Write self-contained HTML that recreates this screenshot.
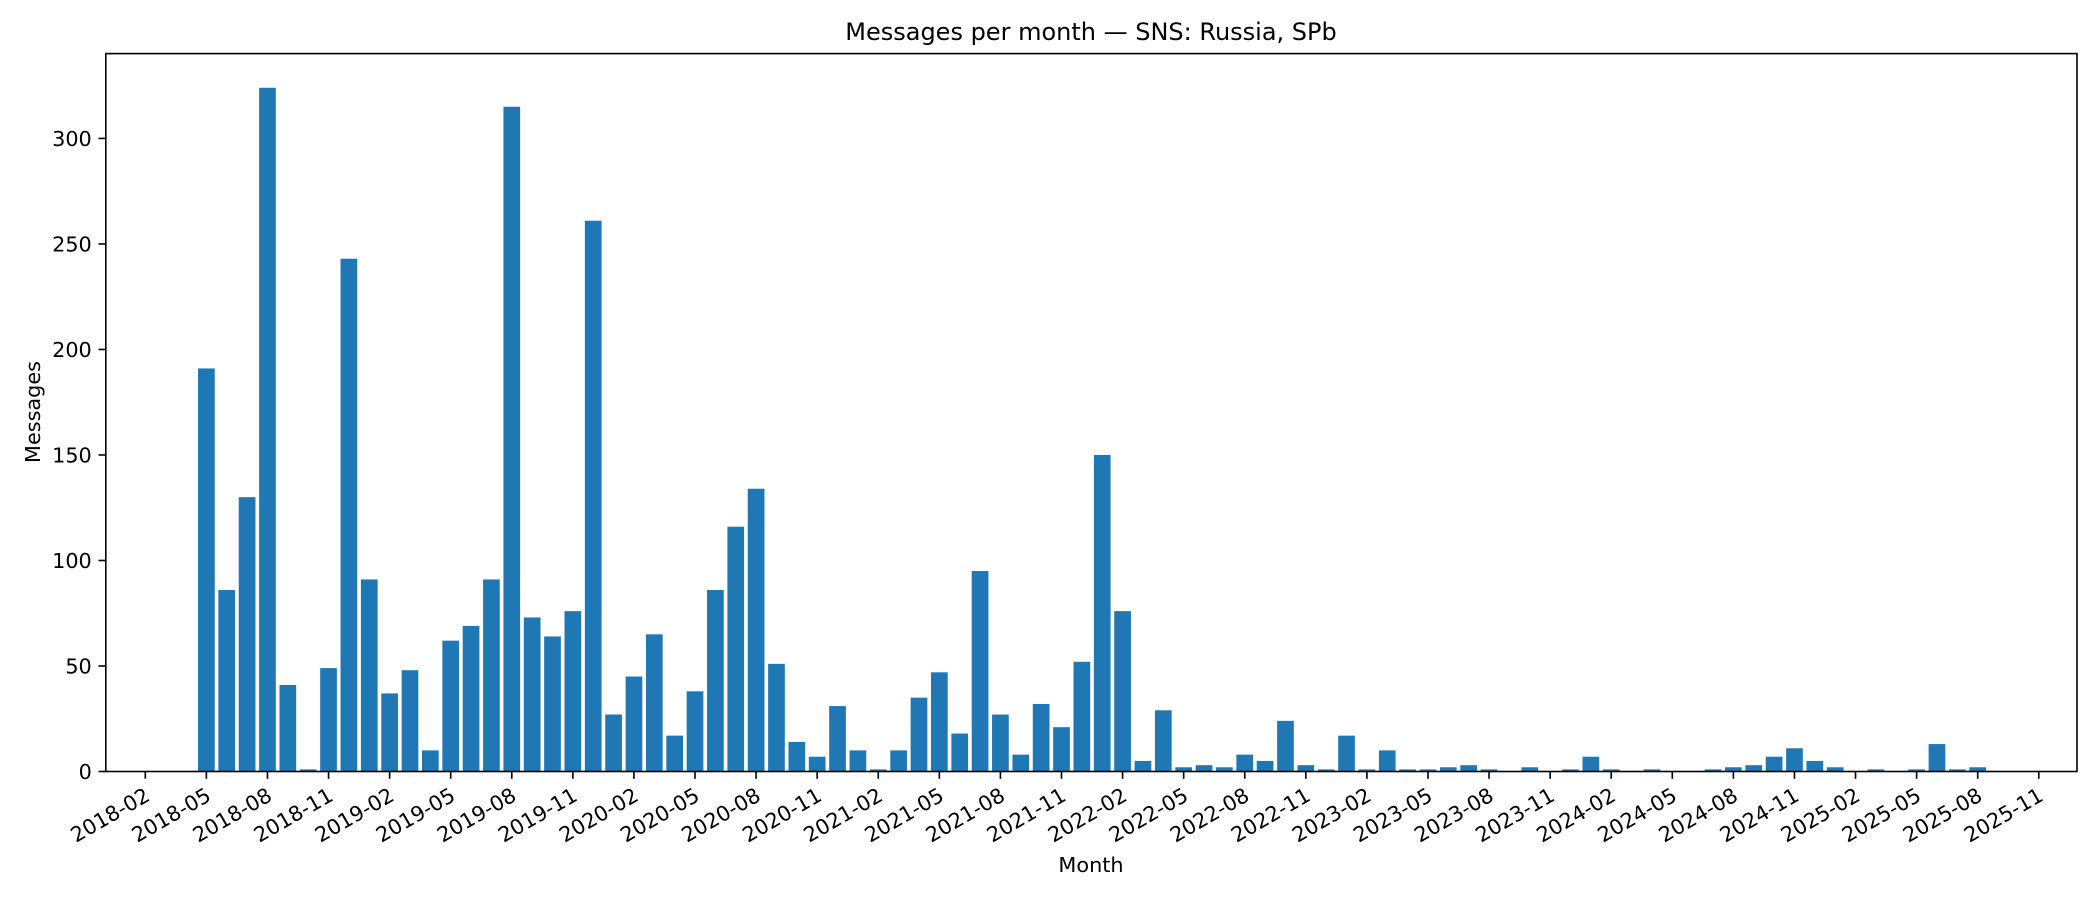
<!DOCTYPE html>
<html><head><meta charset="utf-8"><style>
html,body{margin:0;padding:0;background:#fff;}
svg{display:block;font-family:"DejaVu Sans","Liberation Sans",sans-serif;}
</style></head><body>
<svg id="chart" width="2100" height="900" viewBox="0 0 2100 900" xmlns="http://www.w3.org/2000/svg">
<rect x="0" y="0" width="2100" height="900" fill="#fff"/>
<text x="1091" y="40" font-size="24" text-anchor="middle" fill="#000">Messages per month — SNS: Russia, SPb</text>
<g id="bars"></g>
<g id="yaxis"></g>
<g id="xaxis"></g>
<rect x="105.8" y="53.6" width="1971.2" height="717.9" fill="none" stroke="#000" stroke-width="1.6"/>
<text x="1091" y="872" font-size="20.8" text-anchor="middle" fill="#000">Month</text>
<text x="0" y="0" font-size="20.8" text-anchor="middle" fill="#000" transform="translate(40,412) rotate(-90)">Messages</text>
</svg>
<script>
// data: monthly counts starting 2018-05
const startMonth = "2018-05";
const messages = [
191,86,130,324,41,1,49,243,
91,37,48,10,62,69,91,315,73,64,76,261,
27,45,65,17,38,86,116,134,51,14,7,31,
10,1,10,35,47,18,95,27,8,32,21,52,
150,76,5,29,2,3,2,8,5,24,3,1,
17,1,10,1,1,2,3,1,0,2,0,1,
7,1,0,1,0,0,1,2,3,7,11,5,
2,0,1,0,1,13,1,2
];
const xTickLabels = ["2018-02","2018-05","2018-08","2018-11","2019-02","2019-05","2019-08","2019-11","2020-02","2020-05","2020-08","2020-11","2021-02","2021-05","2021-08","2021-11","2022-02","2022-05","2022-08","2022-11","2023-02","2023-05","2023-08","2023-11","2024-02","2024-05","2024-08","2024-11","2025-02","2025-05","2025-08","2025-11"];
const yTicks = [0,50,100,150,200,250,300];

const NS = "http://www.w3.org/2000/svg";
const plotLeft = 105.8, plotRight = 2077, plotTop = 53.6, plotBottom = 771.5;
const originYear = 2018, originMonth = 2; // 2018-02 at index 0
const monthPx = 20.36, x0 = 145.3;
const yMax = Math.max(...messages) * 1.05;
function monthIndex(s){ const [y,m] = s.split("-").map(Number); return (y-originYear)*12 + (m-originMonth); }
function xScale(i){ return x0 + i*monthPx; }
function yScale(v){ return plotBottom - v/yMax*(plotBottom-plotTop); }

const barsG = document.getElementById("bars");
const start = monthIndex(startMonth);
const bw = 16.7;
messages.forEach((v,k)=>{
  const cx = xScale(start+k);
  const r = document.createElementNS(NS,"rect");
  r.setAttribute("x", cx-bw/2);
  r.setAttribute("y", yScale(v));
  r.setAttribute("width", bw);
  r.setAttribute("height", Math.max(0, plotBottom - yScale(v)));
  r.setAttribute("fill", "#1f77b4");
  
  
  barsG.appendChild(r);
});

const yG = document.getElementById("yaxis");
yTicks.forEach(t=>{
  const y = yScale(t);
  const l = document.createElementNS(NS,"line");
  l.setAttribute("x1", plotLeft-7.3); l.setAttribute("x2", plotLeft);
  l.setAttribute("y1", y); l.setAttribute("y2", y);
  l.setAttribute("stroke","#000"); l.setAttribute("stroke-width","1.6");
  
  
  yG.appendChild(l);
  const tx = document.createElementNS(NS,"text");
  tx.setAttribute("x", plotLeft-14); tx.setAttribute("y", y+7.5);
  tx.setAttribute("font-size","20.8"); tx.setAttribute("text-anchor","end");
  tx.textContent = t;
  
  
  yG.appendChild(tx);
});

const xG = document.getElementById("xaxis");
xTickLabels.forEach(s=>{
  const x = xScale(monthIndex(s));
  const l = document.createElementNS(NS,"line");
  l.setAttribute("x1", x); l.setAttribute("x2", x);
  l.setAttribute("y1", plotBottom); l.setAttribute("y2", plotBottom+7.3);
  l.setAttribute("stroke","#000"); l.setAttribute("stroke-width","1.6");
  
  
  xG.appendChild(l);
  const tx = document.createElementNS(NS,"text");
  tx.setAttribute("font-size","20.8"); tx.setAttribute("text-anchor","end");
  tx.setAttribute("transform", `translate(${x+6},${plotBottom+28}) rotate(-30)`);
  tx.textContent = s;
  
  
  xG.appendChild(tx);
});
</script>
</body></html>
